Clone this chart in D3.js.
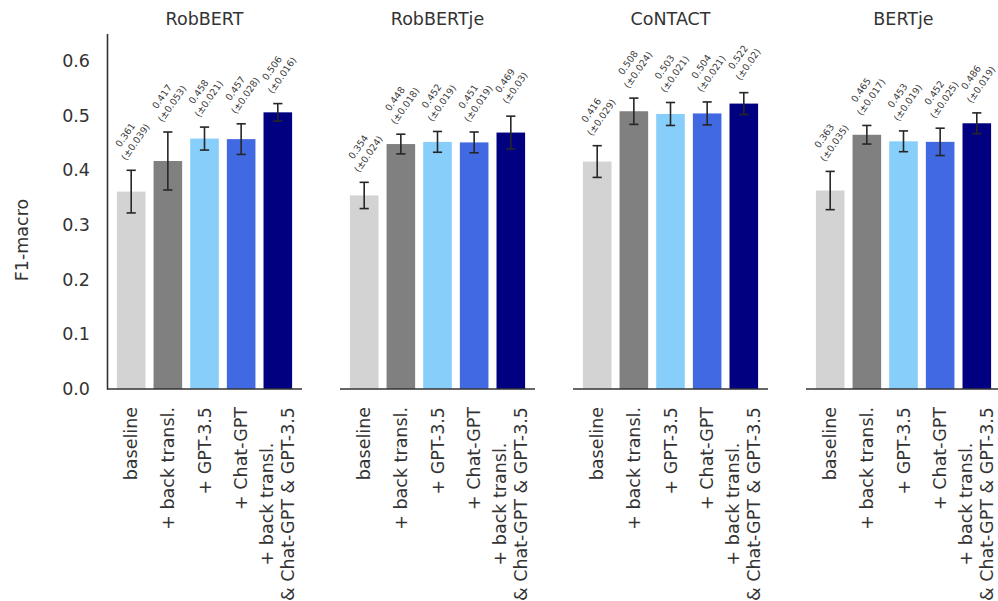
<!DOCTYPE html>
<html>
<head>
<meta charset="utf-8">
<script src="https://cdn.jsdelivr.net/npm/d3@7"></script>
<style>
html,body{margin:0;padding:0;background:#fff;}
svg{display:block;font-family:"DejaVu Sans",sans-serif;}
</style>
</head>
<body>
<svg id="chart" width="998" height="601"></svg>
<script>
const models = ["RobBERT", "RobBERTje", "CoNTACT", "BERTje"];
const conditions = ["baseline", "+ back transl.", "+ GPT-3.5", "+ Chat-GPT", "+ back transl.\n& Chat-GPT & GPT-3.5"];
const colors = ["#d3d3d3", "#808080", "#87cefa", "#4169e1", "#000080"];
const meanRobBERT = [0.361, 0.417, 0.458, 0.457, 0.506];
const stdRobBERT = [0.039, 0.053, 0.021, 0.028, 0.016];
const meanRobBERTje = [0.354, 0.448, 0.452, 0.451, 0.469];
const stdRobBERTje = [0.024, 0.018, 0.019, 0.019, 0.03];
const meanCoNTACT = [0.416, 0.508, 0.503, 0.504, 0.522];
const stdCoNTACT = [0.029, 0.024, 0.021, 0.021, 0.02];
const meanBERTje = [0.363, 0.465, 0.453, 0.452, 0.486];
const stdBERTje = [0.035, 0.017, 0.019, 0.025, 0.019];
const yTicks = [0.0, 0.1, 0.2, 0.3, 0.4, 0.5, 0.6];
const yLabel = "F1-macro";

const means = [meanRobBERT, meanRobBERTje, meanCoNTACT, meanBERTje];
const stds = [stdRobBERT, stdRobBERTje, stdCoNTACT, stdBERTje];

const svg = d3.select("#chart");
const panelLeft = [107, 340, 573, 806];
const panelW = 195;
const plotTop = 33.6, plotBottom = 389;
const y = d3.scaleLinear().domain([0, 0.65]).range([plotBottom, plotTop]);
const x = d3.scaleBand().domain(d3.range(conditions.length)).range([0, panelW]).paddingInner(0.22).paddingOuter(0.27);
const axisColor = "#333333";
const textColor = "#333333";

const yAxis = d3.axisLeft(y).tickValues(yTicks).tickFormat(d3.format(".1f")).tickSize(0).tickPadding(17);
const gy = svg.append("g").attr("transform", `translate(${panelLeft[0]},0)`).call(yAxis);
gy.select(".domain").attr("stroke", axisColor).attr("stroke-width", 1.6);
gy.selectAll("text").attr("font-size", 17.5).attr("fill", textColor).attr("font-family", "DejaVu Sans");

svg.append("text").attr("transform", `translate(28,240) rotate(-90)`)
  .attr("text-anchor", "middle").attr("font-size", 17.5).attr("fill", textColor).text(yLabel);

models.forEach((m, pi) => {
  const g = svg.append("g").attr("transform", `translate(${panelLeft[pi]},0)`);
  g.append("text").attr("x", panelW/2).attr("y", 25).attr("text-anchor", "middle")
    .attr("font-size", 17.5).attr("fill", textColor).text(m);
  const data = conditions.map((c, i) => ({i, mean: means[pi][i], std: stds[pi][i]}));
  g.selectAll("rect.bar").data(data).enter().append("rect")
    .attr("x", d => x(d.i)).attr("width", x.bandwidth())
    .attr("y", d => y(d.mean)).attr("height", d => y(0) - y(d.mean))
    .attr("fill", d => colors[d.i]);
  const cxf = d => x(d.i) + x.bandwidth()/2;
  const eg = g.selectAll("g.err").data(data).enter().append("g").attr("stroke", "#262626").attr("stroke-width", 1.6);
  eg.append("line").attr("x1", cxf).attr("x2", cxf)
    .attr("y1", d => y(d.mean - d.std)).attr("y2", d => y(d.mean + d.std));
  eg.append("line").attr("x1", d => cxf(d) - 4.6).attr("x2", d => cxf(d) + 4.6)
    .attr("y1", d => y(d.mean - d.std)).attr("y2", d => y(d.mean - d.std));
  eg.append("line").attr("x1", d => cxf(d) - 4.6).attr("x2", d => cxf(d) + 4.6)
    .attr("y1", d => y(d.mean + d.std)).attr("y2", d => y(d.mean + d.std));
  const ag = g.selectAll("g.ann").data(data).enter().append("g")
    .attr("transform", d => `translate(${cxf(d) - 1},${y(d.mean + d.std) - 32}) rotate(-55)`);
  const at = ag.append("text").attr("text-anchor", "middle").attr("font-size", 9.4).attr("fill", "#3a3a3a");
  at.append("tspan").attr("x", 0).attr("y", -6.2).attr("dominant-baseline", "central").text(d => String(d.mean));
  at.append("tspan").attr("x", 0).attr("y", 6.2).attr("dominant-baseline", "central").text(d => "(±" + String(d.std) + ")");
  g.append("line").attr("x1", 0).attr("x2", panelW).attr("y1", plotBottom).attr("y2", plotBottom)
    .attr("stroke", axisColor).attr("stroke-width", 1.6);
  const lineH = 21;
  conditions.forEach((c, i) => {
    const lines = c.split("\n");
    const tg = g.append("g").attr("transform", `translate(${x(i) + x.bandwidth()/2},${plotBottom + 18}) rotate(-90)`);
    const n = lines.length;
    const nodes = lines.map((ln, k) => tg.append("text").attr("font-size", 17.5).attr("fill", textColor)
      .attr("dominant-baseline", "central").attr("y", (k - (n - 1)/2) * lineH).text(ln));
    const W = d3.max(nodes, t => t.node().getComputedTextLength());
    nodes.forEach(t => t.attr("text-anchor", "middle").attr("x", -W/2));
  });
});
</script>
</body>
</html>
